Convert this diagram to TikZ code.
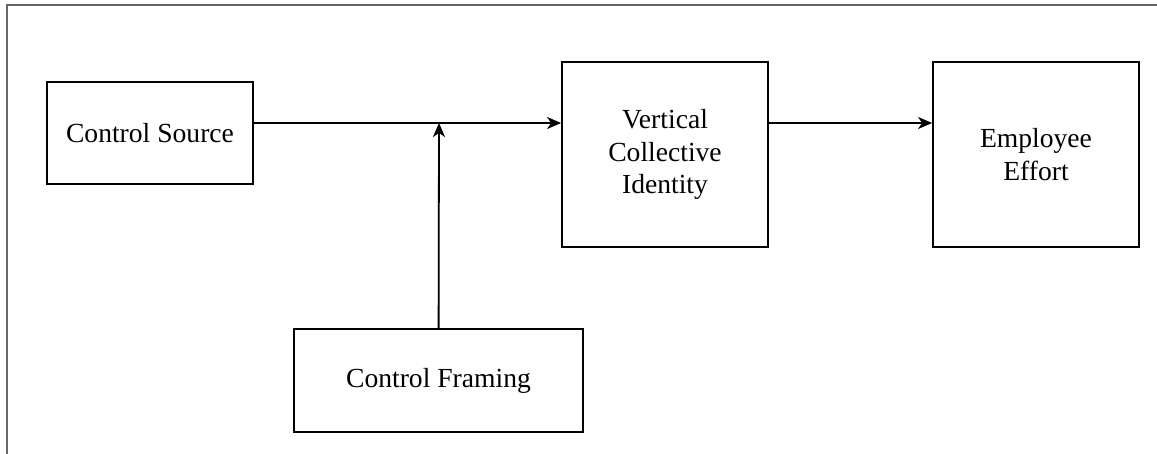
\documentclass[tikz,border=0pt]{standalone}
\usepackage{fontspec}
\setmainfont{Liberation Serif}
\usepackage{tikz}
\usetikzlibrary{arrows.meta}

\tikzset{
	box/.style={draw, line width=0.9pt, align=center, inner sep=0pt, font=\fontsize{13.8}{16.2}\selectfont},
	link/.style={line width=0.9pt, -{Stealth[length=7pt, width=6pt, inset=2pt]}},
}

\begin{document}
\begin{tikzpicture}[x=0.5pt, y=-0.5pt]
			\useasboundingbox (0,0) rectangle (1157,454);
			\draw[gray!80!black, line width=0.6pt] (7,454) -- (7,5) -- (1157,5);

			\node[box, minimum width=103pt, minimum height=51pt] (source) at (150,133) {Control Source};
			\node[box, minimum width=103pt, minimum height=92.5pt] (identity) at (665,154.5) {Vertical\\Collective\\Identity};
			\node[box, minimum width=103pt, minimum height=92.5pt] (effort) at (1036,154.5) {Employee\\Effort};
			\node[box, minimum width=144.5pt, minimum height=51.5pt] (framing) at (438.5,380.5) {Control Framing};
			\coordinate (joint) at (439,123);

			\draw[link] (source.east |- joint) -- (identity.west |- joint);
			\draw[link] (framing) -- (joint);
			\draw[link] (identity.east |- joint) -- (effort.west |- joint);
		\end{tikzpicture}
\end{document}
